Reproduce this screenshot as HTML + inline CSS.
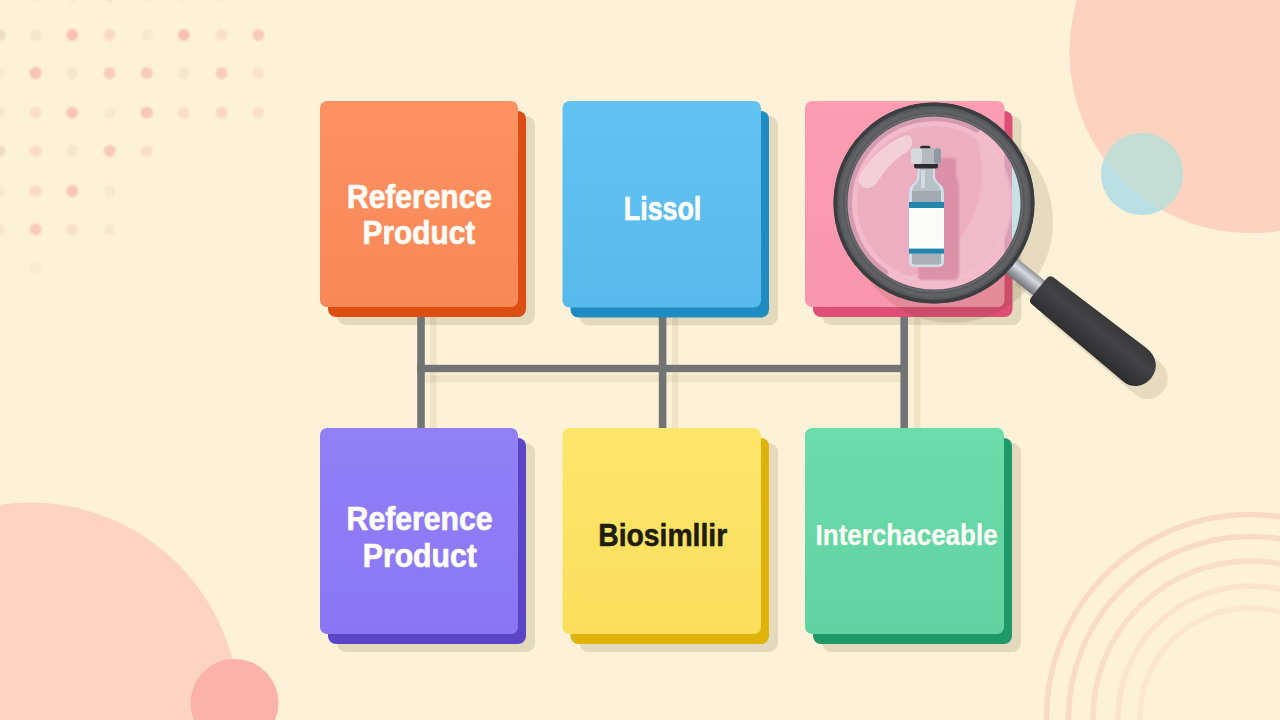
<!DOCTYPE html>
<html>
<head>
<meta charset="utf-8">
<title>Reference Product, Biosimilar, Interchangeable</title>
<style>
html,body{margin:0;padding:0;background:#FDF2D8;}
body{width:1280px;height:720px;overflow:hidden;font-family:"Liberation Sans",sans-serif;}
svg{display:block;}
text{font-family:"Liberation Sans",sans-serif;font-weight:bold;}
</style>
</head>
<body>
<svg width="1280" height="720" viewBox="0 0 1280 720">
<defs>
<linearGradient id="neck" x1="0" y1="0" x2="0" y2="1">
<stop offset="0" stop-color="#8d9094"/><stop offset="0.35" stop-color="#d9dcdf"/><stop offset="0.7" stop-color="#9a9da1"/><stop offset="1" stop-color="#6f7276"/>
</linearGradient>
<linearGradient id="handle" x1="0" y1="0" x2="0" y2="1">
<stop offset="0" stop-color="#38383a"/><stop offset="0.4" stop-color="#434345"/><stop offset="1" stop-color="#2d2d2f"/>
</linearGradient>
<clipPath id="lensclip"><circle cx="934" cy="203" r="88"/></clipPath>
<filter id="soft" x="-5%" y="-5%" width="110%" height="110%"><feGaussianBlur stdDeviation="0.9"/></filter>
<clipPath id="peachclip"><circle cx="1250.7" cy="52" r="181.3"/></clipPath>
<linearGradient id="gO" x1="0" y1="0" x2="0" y2="1"><stop offset="0" stop-color="#FC9262"/><stop offset="1" stop-color="#F98858"/></linearGradient>
<linearGradient id="gB" x1="0" y1="0" x2="0" y2="1"><stop offset="0" stop-color="#62C3F2"/><stop offset="1" stop-color="#58BAEC"/></linearGradient>
<linearGradient id="gP" x1="0" y1="0" x2="0" y2="1"><stop offset="0" stop-color="#FC9DB2"/><stop offset="1" stop-color="#FA96AD"/></linearGradient>
<linearGradient id="gV" x1="0" y1="0" x2="0" y2="1"><stop offset="0" stop-color="#9280F6"/><stop offset="1" stop-color="#8A76F3"/></linearGradient>
<linearGradient id="gY" x1="0" y1="0" x2="0" y2="1"><stop offset="0" stop-color="#FDE66B"/><stop offset="1" stop-color="#FBDF5C"/></linearGradient>
<linearGradient id="gG" x1="0" y1="0" x2="0" y2="1"><stop offset="0" stop-color="#6ADDAA"/><stop offset="1" stop-color="#61D2A0"/></linearGradient>
</defs>
<rect width="1280" height="720" fill="#FDF2D8"/>

<!-- BG-DECOR -->
<circle cx="1250.7" cy="52" r="181.3" fill="#FDD3C0"/>
<circle cx="1142" cy="174" r="41" fill="#B9DEE3"/>
<circle cx="1142" cy="174" r="41" fill="#C3DDD4" clip-path="url(#peachclip)"/>
<circle cx="30.2" cy="711.4" r="208.8" fill="#FDD3C1"/>
<circle cx="234.5" cy="703" r="44" fill="#FBB2A9"/>
<g fill="none" stroke="#FAD8C6" stroke-width="5.5">
<circle cx="1250" cy="718" r="203.5" stroke-opacity="0.95"/>
<circle cx="1250" cy="718" r="181.5" stroke-opacity="0.9"/>
<circle cx="1250" cy="718" r="157" stroke-opacity="0.8"/>
<circle cx="1250" cy="718" r="132" stroke-opacity="0.6"/>
<circle cx="1250" cy="718" r="110" stroke-opacity="0.45"/>
</g>
<!-- DOTS -->
<g fill="#F6B3A9" id="dots" filter="url(#soft)">
<circle cx="35.6" cy="-4.5" r="6" fill="#E8D6BA" fill-opacity="0.4"/>
<circle cx="72.2" cy="-4.5" r="6" fill="#E8D6BA" fill-opacity="0.4"/>
<circle cx="109.6" cy="-4.5" r="6" fill="#E8D6BA" fill-opacity="0.64"/>
<circle cx="146.7" cy="-4.5" r="6" fill="#E8D6BA" fill-opacity="0.4"/>
<circle cx="183.8" cy="-4.5" r="6" fill="#E8D6BA" fill-opacity="0.4"/>
<circle cx="221.6" cy="-4.5" r="6" fill="#E8D6BA" fill-opacity="0.4"/>
<circle cx="-0.5" cy="34.9" r="6" fill="#E8D6BA" fill-opacity="0.72"/>
<circle cx="35.6" cy="34.9" r="6" fill="#E8D6BA" fill-opacity="0.4"/>
<circle cx="72.2" cy="34.9" r="6" fill="#F6B3A9" fill-opacity="0.8"/>
<circle cx="109.6" cy="34.9" r="6" fill="#F6B3A9" fill-opacity="0.4"/>
<circle cx="146.7" cy="34.9" r="6" fill="#E8D6BA" fill-opacity="0.32"/>
<circle cx="183.8" cy="34.9" r="6" fill="#F6B3A9" fill-opacity="0.8"/>
<circle cx="221.6" cy="34.9" r="6" fill="#F6B3A9" fill-opacity="0.3"/>
<circle cx="258.4" cy="34.9" r="6" fill="#F6B3A9" fill-opacity="0.65"/>
<circle cx="-0.5" cy="72.9" r="6" fill="#E8D6BA" fill-opacity="0.24"/>
<circle cx="35.6" cy="72.9" r="6" fill="#F6B3A9" fill-opacity="0.75"/>
<circle cx="72.2" cy="72.9" r="6" fill="#E8D6BA" fill-opacity="0.4"/>
<circle cx="109.6" cy="72.9" r="6" fill="#F6B3A9" fill-opacity="0.6"/>
<circle cx="146.7" cy="72.9" r="6" fill="#F6B3A9" fill-opacity="0.65"/>
<circle cx="183.8" cy="72.9" r="6" fill="#E8D6BA" fill-opacity="0.4"/>
<circle cx="221.6" cy="72.9" r="6" fill="#F6B3A9" fill-opacity="0.6"/>
<circle cx="258.4" cy="72.9" r="6" fill="#F6B3A9" fill-opacity="0.25"/>
<circle cx="-0.5" cy="112.7" r="6" fill="#E8D6BA" fill-opacity="0.32"/>
<circle cx="35.6" cy="112.7" r="6" fill="#F6B3A9" fill-opacity="0.3"/>
<circle cx="72.2" cy="112.7" r="6" fill="#F6B3A9" fill-opacity="0.72"/>
<circle cx="109.6" cy="112.7" r="6" fill="#E8D6BA" fill-opacity="0.32"/>
<circle cx="146.7" cy="112.7" r="6" fill="#F6B3A9" fill-opacity="0.72"/>
<circle cx="183.8" cy="112.7" r="6" fill="#F6B3A9" fill-opacity="0.33"/>
<circle cx="221.6" cy="112.7" r="6" fill="#F6B3A9" fill-opacity="0.45"/>
<circle cx="258.4" cy="112.7" r="6" fill="#F6B3A9" fill-opacity="0.3"/>
<circle cx="-0.5" cy="151.1" r="6" fill="#E8D6BA" fill-opacity="0.72"/>
<circle cx="35.6" cy="151.1" r="6" fill="#F6B3A9" fill-opacity="0.35"/>
<circle cx="72.2" cy="151.1" r="6" fill="#E8D6BA" fill-opacity="0.4"/>
<circle cx="109.6" cy="151.1" r="6" fill="#F6B3A9" fill-opacity="0.65"/>
<circle cx="146.7" cy="151.1" r="6" fill="#F6B3A9" fill-opacity="0.3"/>
<circle cx="-0.5" cy="191" r="6" fill="#E8D6BA" fill-opacity="0.32"/>
<circle cx="35.6" cy="191" r="6" fill="#F6B3A9" fill-opacity="0.4"/>
<circle cx="72.2" cy="191" r="6" fill="#F6B3A9" fill-opacity="0.7"/>
<circle cx="109.6" cy="191" r="6" fill="#E8D6BA" fill-opacity="0.32"/>
<circle cx="-0.5" cy="229.6" r="6" fill="#E8D6BA" fill-opacity="0.32"/>
<circle cx="35.6" cy="229.6" r="6" fill="#F6B3A9" fill-opacity="0.6"/>
<circle cx="72.2" cy="229.6" r="6" fill="#F6B3A9" fill-opacity="0.28"/>
<circle cx="109.6" cy="229.6" r="6" fill="#E8D6BA" fill-opacity="0.32"/>
<circle cx="35.6" cy="268" r="6" fill="#E8D6BA" fill-opacity="0.24"/>
</g>

<!-- CARD SHADOWS -->
<g id="cshadows">
<rect x="337" y="116" width="198" height="209" rx="9" fill="#E3DABD"/>
<rect x="579.5" y="116" width="198.5" height="209.5" rx="9" fill="#E3DABD"/>
<rect x="822" y="116" width="199.5" height="209" rx="9" fill="#E3DABD"/>
<rect x="337" y="443" width="198" height="209" rx="9" fill="#E3DABD"/>
<rect x="579.5" y="443" width="198.5" height="209" rx="9" fill="#E3DABD"/>
<rect x="822" y="443" width="199" height="209" rx="9" fill="#E3DABD"/>
</g>

<!-- LINES -->
<g id="lines">
<g fill="#6b5a20" fill-opacity="0.09">
<rect x="430" y="317" width="6.5" height="111"/>
<rect x="672" y="317" width="6.5" height="111"/>
<rect x="914" y="317" width="6.5" height="111"/>
<rect x="425" y="374.5" width="475.5" height="8"/>
</g>
<g fill="#727476">
<rect x="417.2" y="300" width="7.6" height="130"/>
<rect x="658.8" y="300" width="7.6" height="130"/>
<rect x="900.4" y="300" width="7.6" height="130"/>
<rect x="417.2" y="364.8" width="490.8" height="7.4"/>
</g>
</g>

<!-- CARDS -->
<g id="cards">
<rect x="328" y="111" width="198" height="206" rx="8" fill="#DC4E12"/>
<rect x="320" y="101" width="198" height="206" rx="7" fill="url(#gO)"/>
<rect x="570.5" y="111" width="198.5" height="206.5" rx="8" fill="#1E8CC0"/>
<rect x="562.5" y="101" width="198.5" height="206.5" rx="7" fill="url(#gB)"/>
<rect x="813" y="111" width="199.5" height="206" rx="8" fill="#DD4F76"/>
<rect x="805" y="101" width="199.5" height="206" rx="7" fill="url(#gP)"/>
<rect x="328" y="438" width="198" height="206" rx="8" fill="#5B45C6"/>
<rect x="320" y="428" width="198" height="206" rx="7" fill="url(#gV)"/>
<rect x="570.5" y="438" width="198.5" height="206" rx="8" fill="#DDB30C"/>
<rect x="562.5" y="428" width="198.5" height="206" rx="7" fill="url(#gY)"/>
<rect x="813" y="438" width="199" height="206" rx="8" fill="#1F9968"/>
<rect x="805" y="428" width="199" height="206" rx="7" fill="url(#gG)"/>
</g>

<!-- TEXT -->
<g id="labels">
<g fill="#FFFDF8" stroke="#FFFDF8" stroke-width="0.7" stroke-linejoin="round">
<text x="347" y="208.3" font-size="32.5" textLength="145" lengthAdjust="spacingAndGlyphs">Reference</text>
<text x="362.6" y="244.3" font-size="32.5" textLength="112.6" lengthAdjust="spacingAndGlyphs">Product</text>
<text x="623.8" y="219.5" font-size="33" textLength="77.5" lengthAdjust="spacingAndGlyphs">Lissol</text>
<text x="346.6" y="530.4" font-size="32.5" textLength="146" lengthAdjust="spacingAndGlyphs">Reference</text>
<text x="362.8" y="566.7" font-size="32.5" textLength="114" lengthAdjust="spacingAndGlyphs">Product</text>
<text x="815.6" y="545.1" font-size="29" textLength="182" lengthAdjust="spacingAndGlyphs" stroke-width="0.25">Interchaceable</text>
</g>
<text x="598.2" y="546.2" font-size="31" textLength="129" lengthAdjust="spacingAndGlyphs" fill="#1E1D12" stroke="#1E1D12" stroke-width="0.6" stroke-linejoin="round">Biosimllir</text>
</g>

<!-- MAGNIFIER -->
<g id="mag">
<!-- shadows -->
<g fill="#4f3d10" fill-opacity="0.125">
<circle cx="952" cy="222" r="101"/>
<g transform="translate(12,13) rotate(38.7 934 203)">
<rect x="1030" y="194.2" width="42" height="19"/>
<path d="M 1074 186.4 L 1190 183.4 C 1204 183.1 1213 191.7 1213 203.7 C 1213 215.7 1204 224.3 1194 224 L 1074 221 Q 1069 221 1069 215.7 L 1069 191.7 Q 1069 186.4 1074 186.4 Z"/>
</g>
</g>
<!-- lens -->
<g clip-path="url(#lensclip)">
<rect x="830" y="100" width="210" height="210" fill="#C7E2E5"/>
<rect x="813" y="111" width="199" height="206" rx="8" fill="#D99EB4"/>
<rect x="805" y="101" width="199.5" height="206" rx="7" fill="#F2BACA"/>
<circle cx="934" cy="203" r="77" fill="#ECAFC2"/>
<path d="M 975 135 A 80 80 0 0 1 905 278 A 110 110 0 0 0 975 135 Z" fill="#F3C2CF" fill-opacity="0.55"/>
<path d="M 859 177 Q 866 164 875 155.5 Q 888 142 905 135.5 Q 911 134 912 140 Q 913 147 908 151 Q 893 160 882 175 Q 878 181 875 185 Q 869 190 864 187.5 Q 858 184 859 177 Z" fill="#FFFFFF" fill-opacity="0.4"/>
<path d="M 885.2 272.6 A 85 85 0 0 1 976.5 129.4" fill="none" stroke="#B47C95" stroke-width="6" stroke-opacity="0.5" stroke-linecap="round"/>
<!-- vial shadow -->
<path d="M 926 158 h 28 q 2 0 2 3 v 15 q 3 6 3 14 v 84 q 0 6 -6 6 h -31 q -4 0 -4 -4 z" fill="#D88AA3" fill-opacity="0.85" filter="url(#soft)"/>
</g>
<!-- vial -->
<g id="vial">
<path d="M 917.5 166 h 17.5 v 10 q 0 4 5 8 q 4 3 4 9 v 68 q 0 6 -6 6 h -23 q -6 0 -6 -6 v -68 q 0 -6 4 -9 q 4.5 -4 4.5 -8 z" fill="#CFE0E6"/>
<path d="M 919.5 168 h 13.5 v 9 q 0 4 5 8 q 3 3 3 8 v 68 q 0 4 -4 4 h -21 q -4 0 -4 -4 v -68 q 0 -5 3 -8 q 4.5 -4 4.5 -8 z" fill="#B9C1C8"/>
<rect x="912" y="191" width="29" height="12" fill="#A2A9B1"/>
<rect x="921" y="170" width="4" height="18" fill="#DCE6EA" fill-opacity="0.7"/>
<rect x="909" y="202" width="35" height="6" fill="#1F86AE"/>
<rect x="909" y="208" width="35" height="41" fill="#FBFBFA"/>
<rect x="909" y="248.6" width="35" height="5" fill="#1F86AE"/>
<rect x="912" y="254" width="29" height="10" fill="#A9B0B8"/>
<rect x="914" y="163" width="24" height="5.5" rx="2.5" fill="#2C2D30"/>
<rect x="920" y="145.8" width="10.5" height="5" rx="2" fill="#2C2D30"/>
<rect x="911" y="148.2" width="30" height="15.8" rx="3" fill="#B4BABF"/>
<rect x="911" y="148.2" width="11" height="15.8" rx="3" fill="#D5DADD"/>
<rect x="934" y="148.2" width="7" height="15.8" rx="3" fill="#9299A0"/>
</g>
<!-- handle -->
<g transform="rotate(38.7 934 203)">
<rect x="1028" y="194.2" width="46" height="19" fill="url(#neck)"/>
<path d="M 1074 186.4 L 1190 183.4 C 1204 183.1 1213 191.7 1213 203.7 C 1213 215.7 1204 224.3 1194 224 L 1074 221 Q 1069 221 1069 215.7 L 1069 191.7 Q 1069 186.4 1074 186.4 Z" fill="url(#handle)"/>
</g>
<!-- ring -->
<circle cx="934" cy="203" r="93.5" fill="none" stroke="#57585B" stroke-width="14"/>
<circle cx="934" cy="203" r="98.7" fill="none" stroke="#3C3D40" stroke-width="3.6"/>
<circle cx="934" cy="203" r="92.5" fill="none" stroke="#646567" stroke-width="4" stroke-opacity="0.7"/>
<circle cx="934" cy="203" r="88.3" fill="none" stroke="#7C7D80" stroke-width="1.2" stroke-opacity="0.6"/>
</g>
</svg>
</body>
</html>
